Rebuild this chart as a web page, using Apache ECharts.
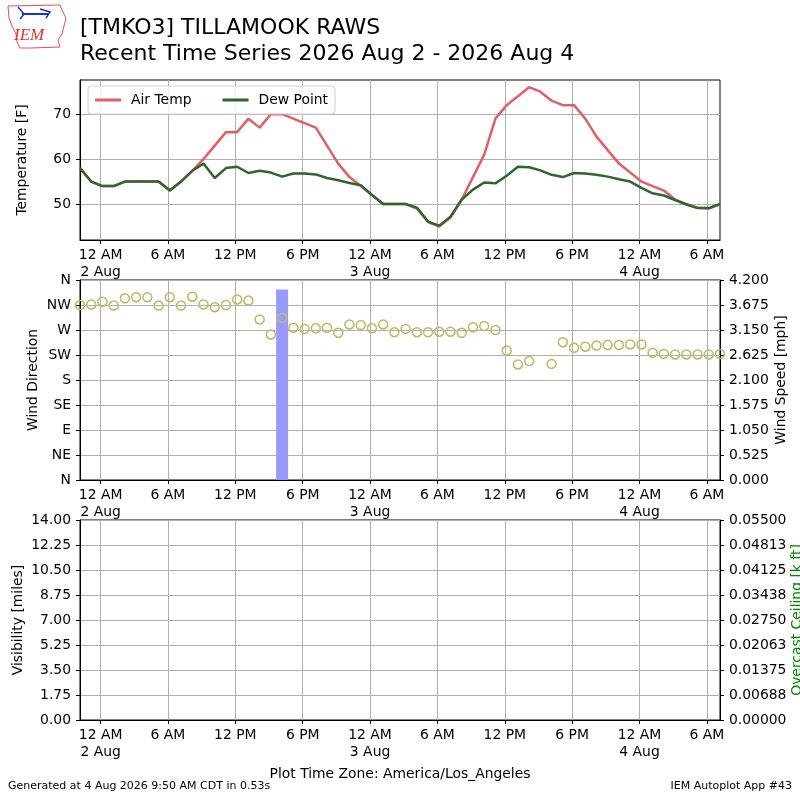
<!DOCTYPE html>
<html>
<head>
<meta charset="utf-8">
<script src="https://cdn.jsdelivr.net/npm/echarts@6/dist/echarts.min.js"></script>
<style>
html,body{margin:0;padding:0;background:#fff;}
#chart{width:800px;height:800px;}
</style>
</head>
<body>
<div id="chart"></div>
<script>
// ---- Data (hourly observations, America/Los_Angeles) ----
const obsTimes = [
  "2026-08-01 22:10","2026-08-01 23:10",
  "2026-08-02 00:10","2026-08-02 01:10","2026-08-02 02:10","2026-08-02 03:10","2026-08-02 04:10","2026-08-02 05:10",
  "2026-08-02 06:10","2026-08-02 07:10","2026-08-02 08:10","2026-08-02 09:10","2026-08-02 10:10","2026-08-02 11:10",
  "2026-08-02 12:10","2026-08-02 13:10","2026-08-02 14:10","2026-08-02 15:10","2026-08-02 16:10","2026-08-02 17:10",
  "2026-08-02 18:10","2026-08-02 19:10","2026-08-02 20:10","2026-08-02 21:10","2026-08-02 22:10","2026-08-02 23:10",
  "2026-08-03 00:10","2026-08-03 01:10","2026-08-03 02:10","2026-08-03 03:10","2026-08-03 04:10","2026-08-03 05:10",
  "2026-08-03 06:10","2026-08-03 07:10","2026-08-03 08:10","2026-08-03 09:10","2026-08-03 10:10","2026-08-03 11:10",
  "2026-08-03 12:10","2026-08-03 13:10","2026-08-03 14:10","2026-08-03 15:10","2026-08-03 16:10","2026-08-03 17:10",
  "2026-08-03 18:10","2026-08-03 19:10","2026-08-03 20:10","2026-08-03 21:10","2026-08-03 22:10","2026-08-03 23:10",
  "2026-08-04 00:10","2026-08-04 01:10","2026-08-04 02:10","2026-08-04 03:10","2026-08-04 04:10","2026-08-04 05:10",
  "2026-08-04 06:10","2026-08-04 07:10"
];
const airTemp = [58,55,54,54,55,55,55,55,53,55,57.4,60,63,66,66,69,67,70,70,69,68,67,63,59,56,54,52,50,50,50,
  49,46,45,47,51,56,61,69,72,74,76,75,73,72,72,69,65,62,59,57,55,54,53,51,50,49.2,49,50];
const dewPoint = [58,55,54,54,55,55,55,55,53,55,57.4,59,55.8,58,58.3,56.9,57.4,57,56.1,56.8,56.8,56.6,55.8,55.3,54.7,54.2,52,50,50,50,
  49.2,46.1,45.2,47.2,51,53.2,54.8,54.6,56.3,58.3,58.2,57.5,56.5,56,56.9,56.8,56.5,56.1,55.5,55,53.6,52.4,51.9,50.9,49.9,49.1,49.1,50];
const windDir = [315,316,321,314,327,329,329,314,329,314,330,316,311,315,325,323,289,262,292,274,272,273,274,265,280,279,273,280,266,
  272,266,266,267,267,265,275,277,270,233,208,214,null,209,248,238,240,242,243,243,244,244,229,227,226,226,226,226,227];
const windSpeed = [0,0,0,0,0,0,0,0,0,0,0,0,0,0,0,0,0,0,4.0,0,0,0,0,0,0,0,0,0,0,
  0,0,0,0,0,0,0,0,0,0,0,0,0,0,0,0,0,0,0,0,0,0,0,0,0,0,0,0,0];

// ---- Axis ticks / labels ----
const axisStart = "2026-08-02 00:00";
const xTickHours = [0,6,12,18,24,30,36,42,48,54];
const xTickLabels = ["12 AM\n2 Aug","6 AM","12 PM","6 PM","12 AM\n3 Aug","6 AM","12 PM","6 PM","12 AM\n4 Aug","6 AM"];
const tempTicks = [50,60,70];
const dirTickLabels = ["N","NE","E","SE","S","SW","W","NW","N"];
const ceilTickLabels = ["0.00000","0.00688","0.01375","0.02063","0.02750","0.03438","0.04125","0.04813","0.05500"];

function parseT(s){
  const [d,t]=s.split(" "); const [Y,M,D]=d.split("-").map(Number); const [h,m]=t.split(":").map(Number);
  return Date.UTC(Y,M-1,D,h,m);
}
const t0 = parseT(axisStart);
const hrs = obsTimes.map(s => (parseT(s)-t0)/3600000);
const xMin = hrs[0], xMax = hrs[hrs.length-1];

const FONT = "DejaVu Sans";
const FS = 13.9;
const gridColor = "#b0b0b0";

function xAxisFor(gi){
  return {
    type:'value', gridIndex:gi, min:xMin, max:xMax,
    axisLine:{show:true,onZero:false,lineStyle:{color:'#000',width:1}},
    axisTick:{show:true,length:4,lineStyle:{color:'#000'},customValues:xTickHours},
    axisLabel:{show:true,margin:7,color:'#000',fontFamily:FONT,fontSize:FS,lineHeight:17,
      customValues:xTickHours,
      formatter:v=>{const i=xTickHours.findIndex(h=>Math.abs(h-v)<1e-6);return i>=0?xTickLabels[i]:'';}},
    splitLine:{show:true,lineStyle:{color:gridColor,width:1}}
  };
}

const lbl = {color:'#000',fontFamily:FONT,fontSize:FS};
const nameStyle = {color:'#000',fontFamily:FONT,fontSize:FS};
const yLine = {show:true,onZero:false,lineStyle:{color:'#000'}};
const yTick = {show:true,length:4,lineStyle:{color:'#000'}};
const gridBase = {left:80,right:80,show:true,borderColor:'#000',borderWidth:1,backgroundColor:'transparent',containLabel:false,outerBoundsMode:'none'};

const option = {
  animation:false,
  backgroundColor:'#fff',
  grid:[
    Object.assign({top:80,height:160},gridBase),
    Object.assign({top:280,height:200},gridBase),
    Object.assign({top:520,height:200},gridBase)
  ],
  xAxis:[xAxisFor(0),xAxisFor(1),xAxisFor(2)],
  yAxis:[
    {type:'value',gridIndex:0,min:42,max:77.6,name:'Temperature [F]',nameLocation:'middle',nameGap:51,nameMoveOverlap:false,nameTextStyle:nameStyle,
      axisLine:yLine,
      axisTick:Object.assign({customValues:tempTicks},yTick),
      axisLabel:Object.assign({margin:9,customValues:tempTicks},lbl),
      splitLine:{show:true,lineStyle:{color:gridColor}}},
    {type:'value',gridIndex:1,min:0,max:360,interval:45,name:'Wind Direction',nameLocation:'middle',nameGap:40,nameMoveOverlap:false,nameTextStyle:nameStyle,
      axisLine:yLine,axisTick:yTick,
      axisLabel:Object.assign({margin:9,formatter:v=>dirTickLabels[Math.round(v/45)]},lbl),
      splitLine:{show:true,lineStyle:{color:gridColor}}},
    {type:'value',gridIndex:1,position:'right',min:0,max:4.2,interval:0.525,name:'Wind Speed [mph]',nameLocation:'middle',nameGap:54,nameMoveOverlap:false,nameTextStyle:nameStyle,
      axisLine:yLine,axisTick:yTick,
      axisLabel:Object.assign({margin:9,formatter:v=>v.toFixed(3)},lbl),
      splitLine:{show:false}},
    {type:'value',gridIndex:2,min:0,max:14,interval:1.75,name:'Visibility [miles]',nameLocation:'middle',nameGap:55,nameMoveOverlap:false,nameTextStyle:nameStyle,
      axisLine:yLine,axisTick:yTick,
      axisLabel:Object.assign({margin:9,formatter:v=>v.toFixed(2)},lbl),
      splitLine:{show:true,lineStyle:{color:gridColor}}},
    {type:'value',gridIndex:2,position:'right',min:0,max:0.055,interval:0.006875,name:'Overcast Ceiling [k ft]',nameLocation:'middle',nameGap:70,nameMoveOverlap:false,
      nameTextStyle:{color:'#008000',fontFamily:FONT,fontSize:FS},
      axisLine:yLine,axisTick:yTick,
      axisLabel:Object.assign({margin:9,formatter:v=>ceilTickLabels[Math.round(v/0.006875)]},lbl),
      splitLine:{show:false}}
  ],
  legend:{
    left:88,top:86,orient:'horizontal',itemWidth:26,itemHeight:3,itemGap:31,
    backgroundColor:'rgba(255,255,255,0.8)',borderColor:'#d0d0d0',borderWidth:1,borderRadius:3,padding:[7,7,7,7],
    textStyle:{color:'#000',fontFamily:FONT,fontSize:FS,padding:[0,0,0,5]},
    icon:'rect',
    data:['Air Temp','Dew Point']
  },
  series:[
    {name:'Air Temp',type:'line',xAxisIndex:0,yAxisIndex:0,showSymbol:false,symbol:'none',
      lineStyle:{color:'#e0606a',width:2.5},itemStyle:{color:'#e0606a'},
      data:hrs.map((h,i)=>[h,airTemp[i]]),z:3},
    {name:'Dew Point',type:'line',xAxisIndex:0,yAxisIndex:0,showSymbol:false,symbol:'none',
      lineStyle:{color:'#2f6530',width:2.5},itemStyle:{color:'#2f6530'},
      data:hrs.map((h,i)=>[h,dewPoint[i]]),z:4},
    {name:'Wind Speed',type:'bar',xAxisIndex:1,yAxisIndex:2,barWidth:12,
      itemStyle:{color:'#9999ff'},
      data:hrs.map((h,i)=>[h,windSpeed[i]]),z:2},
    {name:'Wind Direction',type:'scatter',xAxisIndex:1,yAxisIndex:1,symbol:'circle',symbolSize:9,
      itemStyle:{color:'rgba(0,0,0,0)',borderColor:'#bdb76b',borderWidth:1.5,opacity:1},
      data:hrs.map((h,i)=>[h,windDir[i]]).filter(p=>p[1]!==null),z:5}
  ],
  graphic:[
    {type:'text',left:80,top:17,style:{text:'[TMKO3] TILLAMOOK RAWS',fill:'#000',font:'22px "DejaVu Sans"'}},
    {type:'text',left:80,top:43,style:{text:'Recent Time Series 2026 Aug 2 - 2026 Aug 4',fill:'#000',font:'22px "DejaVu Sans"'}},
    {type:'text',left:'center',top:767,style:{text:'Plot Time Zone: America/Los_Angeles',fill:'#000',font:'13.9px "DejaVu Sans"'}},
    {type:'text',left:8,top:781,style:{text:'Generated at 4 Aug 2026 9:50 AM CDT in 0.53s',fill:'#000',font:'11px "DejaVu Sans"'}},
    {type:'text',right:8,top:781,style:{text:'IEM Autoplot App #43',fill:'#000',font:'11px "DejaVu Sans"'}},
    // IEM logo (approximate)
    {type:'polyline',shape:{points:[[8,6],[60,5],[62,10],[66,18],[64,26],[62,34],[58,40],[60,47],[30,48],[20,48],[17,42],[16,34],[12,26],[9,18],[8,6]]},
      style:{stroke:'#e05050',lineWidth:1,fill:'none'}},
    {type:'polyline',shape:{points:[[22,14],[48,14]]},style:{stroke:'#2030d0',lineWidth:2}},
    {type:'polyline',shape:{points:[[18,7],[24,14],[20,19]]},style:{stroke:'#2030d0',lineWidth:1.5,fill:'none'}},
    {type:'polyline',shape:{points:[[40,9],[50,12],[46,18]]},style:{stroke:'#2030d0',lineWidth:1.5,fill:'none'}},
    {type:'text',left:14,top:27,style:{text:'IEM',fill:'#e03030',font:'italic 17px "Liberation Serif"'}}
  ]
};
const chart = echarts.init(document.getElementById('chart'),null,{renderer:'canvas'});
chart.setOption(option);
</script>
</body>
</html>
